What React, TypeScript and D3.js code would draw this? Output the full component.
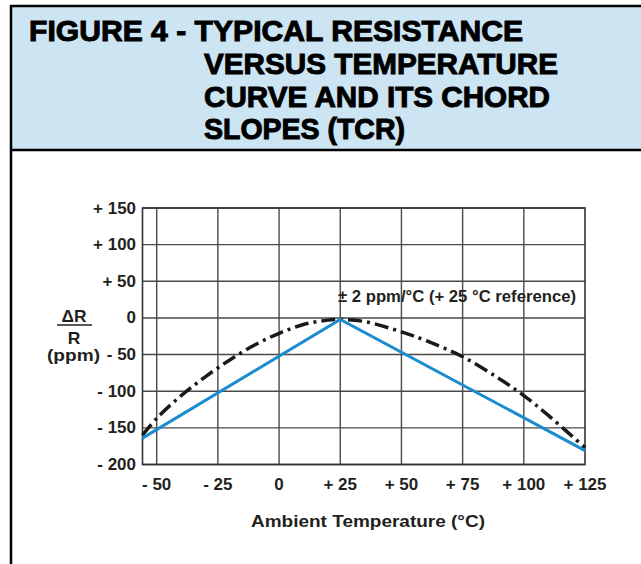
import React, { useRef, useEffect } from 'react';
import * as d3 from 'd3';

// axis ticks
const tempTicks = [-50, -25, 0, 25, 50, 75, 100, 125];
const ppmTicks = [150, 100, 50, 0, -50, -100, -150, -200];

// typical R vs T curve (dash-dot)
const curveTemps = [-55.8, -50, -40, -30, -20, -10, 0, 10, 20, 25, 35, 50, 60, 75, 90, 100, 110, 125];
const curvePpm = [-160, -137, -106, -80, -57, -37, -21, -9, -3, -2, -5, -19, -31, -53, -83, -106, -133, -177];

// chord slopes (blue)
const chordTemps = [-55.8, 25, 125];
const chordPpm = [-164, -2, -181];

const titleLines = [
  'FIGURE 4 - TYPICAL RESISTANCE',
  'VERSUS TEMPERATURE',
  'CURVE AND ITS CHORD',
  'SLOPES (TCR)',
];

const fmt = (d: number) => (d > 0 ? `+ ${d}` : d < 0 ? `- ${-d}` : '0');

const App = () => {
  const chartRef = useRef(null);

  useEffect(() => {
    const container = d3.select(chartRef.current);
    container.select('svg').remove();

    const width = 641;
    const height = 564;
    const ink = '#231f20';
    const font = '"Liberation Sans", Arial, sans-serif';

    const svg = container
      .append('svg')
      .attr('width', width)
      .attr('height', height)
      .style('position', 'absolute')
      .style('left', 0)
      .style('top', 0)
      .style('background', '#fff');

    // header box
    svg.append('rect')
      .attr('x', 11).attr('y', 6).attr('width', width - 11).attr('height', 144)
      .attr('fill', '#cde5f2');
    svg.append('line').attr('x1', 10).attr('x2', width).attr('y1', 6).attr('y2', 6)
      .attr('stroke', '#000').attr('stroke-width', 2.5);
    svg.append('line').attr('x1', 10).attr('x2', width).attr('y1', 150).attr('y2', 150)
      .attr('stroke', '#000').attr('stroke-width', 2.5);
    svg.append('line').attr('x1', 11).attr('x2', 11).attr('y1', 5).attr('y2', height)
      .attr('stroke', '#000').attr('stroke-width', 2.5);

    const titleX = [29, 204, 204, 204];
    const titleW = [494, 354, 346, 201];
    const titleY = [41, 74, 107, 139];
    titleLines.forEach((t, i) => {
      svg.append('text')
        .attr('x', titleX[i]).attr('y', titleY[i])
        .attr('textLength', titleW[i]).attr('lengthAdjust', 'spacingAndGlyphs')
        .attr('font-family', font).attr('font-weight', 900).attr('font-size', 29.5)
        .attr('fill', '#000').attr('stroke', '#000').attr('stroke-width', 1)
        .text(t);
    });

    // scales
    const x = d3.scaleLinear().domain([-55.8, 125]).range([142.5, 585]);
    const y = d3.scaleLinear().domain([-200, 150]).range([464.5, 208]);

    const g = svg.append('g');

    // grid
    g.selectAll('.vgrid')
      .data(tempTicks.filter((d) => d < 125))
      .enter()
      .append('line')
      .attr('x1', (d) => x(d)).attr('x2', (d) => x(d))
      .attr('y1', y(150)).attr('y2', y(-200))
      .attr('stroke', '#4a4a4a').attr('stroke-width', 1.4);
    g.selectAll('.hgrid')
      .data(ppmTicks)
      .enter()
      .append('line')
      .attr('x1', x(-55.8)).attr('x2', x(125))
      .attr('y1', (d) => y(d)).attr('y2', (d) => y(d))
      .attr('stroke', '#4a4a4a').attr('stroke-width', 1.4);
    g.append('rect')
      .attr('x', x(-55.8)).attr('y', y(150))
      .attr('width', x(125) - x(-55.8)).attr('height', y(-200) - y(150))
      .attr('fill', 'none').attr('stroke', '#333').attr('stroke-width', 1.6);

    // curves
    const curve = d3.line<number>()
      .x((d, i) => x(curveTemps[i]))
      .y((d) => y(d))
      .curve(d3.curveCatmullRom);
    g.append('path')
      .attr('d', curve(curvePpm))
      .attr('fill', 'none').attr('stroke', '#1a1a1a').attr('stroke-width', 3.5)
      .attr('stroke-dasharray', '14 5 3 5');

    const chord = d3.line<number>()
      .x((d, i) => x(chordTemps[i]))
      .y((d) => y(d));
    g.append('path')
      .attr('d', chord(chordPpm))
      .attr('fill', 'none').attr('stroke', '#1a8ccf').attr('stroke-width', 3)
      .attr('stroke-linejoin', 'miter');

    // texts
    const label = (tx: number, ty: number, s: string, anchor: string, size: number, w?: number) => {
      const t = svg.append('text')
        .attr('x', tx).attr('y', ty)
        .attr('text-anchor', anchor)
        .attr('font-family', font).attr('font-weight', 'bold').attr('font-size', size)
        .attr('fill', ink)
        .text(s);
      const len = w ?? (t.node() as any).getComputedTextLength() * 1.06;
      t.attr('textLength', len).attr('lengthAdjust', 'spacingAndGlyphs');
      return t;
    };

    ppmTicks.forEach((d) => label(136, y(d) + 5.5, fmt(d), 'end', 16));
    tempTicks.forEach((d) => label(x(d), 489.5, fmt(d), 'middle', 16));

    label(368, 526.5, 'Ambient Temperature (°C)', 'middle', 16.5, 234);
    label(338, 302, '± 2 ppm/°C (+ 25 °C reference)', 'start', 16.5, 238);

    label(74, 321.5, 'ΔR', 'middle', 16.5, 25);
    svg.append('line').attr('x1', 57).attr('x2', 92).attr('y1', 325).attr('y2', 325)
      .attr('stroke', ink).attr('stroke-width', 1.5);
    label(74, 344, 'R', 'middle', 16.5);
    label(73.5, 360.5, '(ppm)', 'middle', 16.5, 53);
  }, []);

  return <div ref={chartRef}></div>;
};

export default App;
